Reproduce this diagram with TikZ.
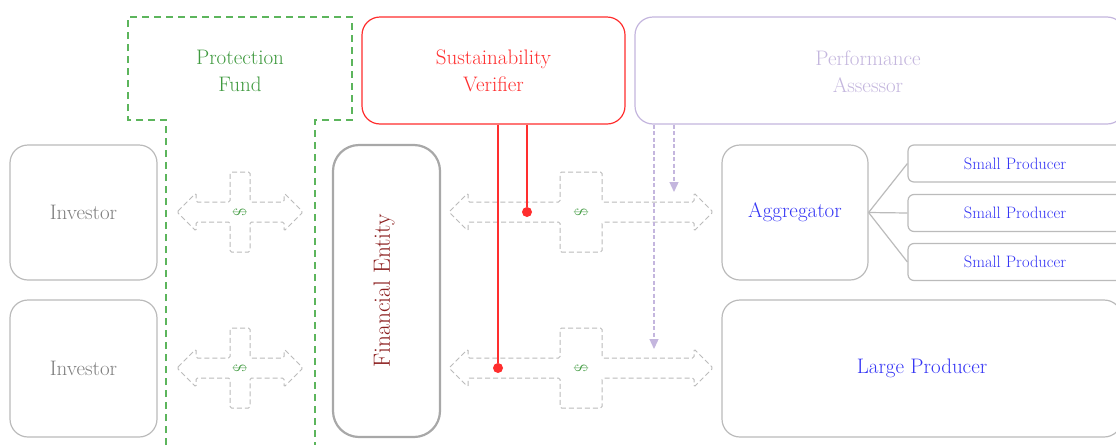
\documentclass[tikz,border=0pt]{standalone}
\usepackage{tikz}
\usetikzlibrary{arrows.meta}
\definecolor{fundgreen}{HTML}{3F9A3F}
\definecolor{dashgreen}{HTML}{5CB55C}
\definecolor{verifred}{HTML}{FF2E2E}
\definecolor{assesspurple}{HTML}{C4B6DE}
\definecolor{prodblue}{HTML}{3535F5}
\definecolor{boxgray}{HTML}{BBBBBB}
\definecolor{textgray}{HTML}{7E7E7E}
\definecolor{entityred}{HTML}{8C1F1F}
\tikzset{
	boxstyle/.style={rectangle,rounded corners=18pt,draw=boxgray,line width=1.2pt,fill=white,inner sep=0pt},
	smallstyle/.style={rectangle,rounded corners=6pt,draw=boxgray,line width=1.2pt,fill=white,inner sep=0pt,
		minimum width=214pt,minimum height=37pt,text=prodblue,font=\fontsize{16.5}{20}\selectfont},
	crossstyle/.style={draw=boxgray,dash pattern=on 5pt off 3pt,line width=1pt,rounded corners=1.5pt},
	dollarstyle/.style={text=fundgreen,font=\fontsize{18}{18}\selectfont,rotate=90,inner sep=0pt},
	reddot/.style={circle,fill=verifred,inner sep=0pt,minimum size=10pt},
	redline/.style={draw=verifred,line width=1.3pt},
	purpleline/.style={draw=assesspurple,line width=1.3pt,dash pattern=on 4pt off 2.5pt,
		-{Triangle[length=10pt,width=9pt]}},
	linkstyle/.style={draw=boxgray,line width=1.2pt}
}
% cross of two arrows with a dollar sign: name, x, y, half length, half width of the bar
\newcommand{\moneycross}[5]{%
	\begin{scope}[shift={(#2,#3)}]
		\draw[crossstyle] (-#4,0) -- (-#4+19,-19) -- (-#4+19,-10) -- (-#5,-10) -- (-#5,-40)
			-- (#5,-40) -- (#5,-10) -- (#4-19,-10) -- (#4-19,-19) -- (#4,0) -- (#4-19,19)
			-- (#4-19,10) -- (#5,10) -- (#5,40) -- (-#5,40) -- (-#5,10) -- (-#4+19,10)
			-- (-#4+19,19) -- cycle;
		\node[dollarstyle] (#1) at (0,0) {\$};
	\end{scope}}

\begin{document}
\begin{tikzpicture}[x=1pt,y=-1pt,font=\fontsize{21}{27}\selectfont]
		\useasboundingbox[fill=white] (0,0) rectangle (1116,445);
		% protection fund
		\draw[dashgreen,line width=1.4pt,dash pattern=on 7pt off 5pt]
			(166,445) -- (166,120) -- (128,120) -- (128,17) -- (352,17) -- (352,120) -- (315,120) -- (315,445);
		\node[text=fundgreen,align=center] (fund) at (240,71) {Protection\\Fund};
		% top boxes
		\node[boxstyle,draw=verifred,minimum width=263pt,minimum height=107pt,text=verifred,align=center]
			(verifier) at (493.5,70.5) {Sustainability\\Verifier};
		\node[boxstyle,draw=assesspurple,minimum width=490pt,minimum height=107pt] (assessor) at (880,70.5) {};
		\node[text=assesspurple,align=center] (assessortxt) at (868,72) {Performance\\Assessor};
		% left side
		\node[boxstyle,minimum width=147pt,minimum height=135pt,text=textgray] (investor1) at (83.5,212.5) {\raisebox{-3pt}{Investor}};
		\node[boxstyle,minimum width=147pt,minimum height=137pt,text=textgray] (investor2) at (83.5,368.5) {\raisebox{-3pt}{Investor}};
		\node[boxstyle,rounded corners=26pt,line width=2.2pt,draw=boxgray!90!black,minimum width=107pt,minimum height=292pt]
			(entity) at (386.5,291) {};
		\node[text=entityred,rotate=90,font=\fontsize{23.5}{28}\selectfont] (entitytxt) at (384,291) {Financial Entity};
		% right side
		\node[boxstyle,minimum width=146pt,minimum height=135pt,text=prodblue] (aggregator) at (795,212.5) {\raisebox{-3pt}{Aggregator}};
		\node[smallstyle] (small1) at (1015,163.5) {Small Producer};
		\node[smallstyle] (small2) at (1015,213) {Small Producer};
		\node[smallstyle] (small3) at (1015,262) {Small Producer};
		\node[boxstyle,minimum width=400pt,minimum height=137pt,text=prodblue] (large) at (922,368.5) {\raisebox{-3pt}{Large Producer}};
		\draw[linkstyle] (aggregator.east) -- (small1.west);
		\draw[linkstyle] (aggregator.east) -- (small2.west);
		\draw[linkstyle] (aggregator.east) -- (small3.west);
		% money flows
		\moneycross{pay1}{240}{212}{63}{10}
		\moneycross{pay2}{240}{368}{63}{10}
		\moneycross{pay3}{581}{212}{132}{21}
		\moneycross{pay4}{581}{368}{132}{21}
		% verification and assessment
		\node[reddot] (checkA) at (527,212) {};
		\node[reddot] (checkB) at (498,368) {};
		\draw[redline] (verifier.south -| checkA) -- (checkA);
		\draw[redline] (verifier.south -| checkB) -- (checkB);
		\coordinate (rateA) at (674,192);
		\coordinate (rateB) at (654,349);
		\draw[purpleline] (assessor.south -| rateA) -- (rateA);
		\draw[purpleline] (assessor.south -| rateB) -- (rateB);
\end{tikzpicture}
\end{document}
